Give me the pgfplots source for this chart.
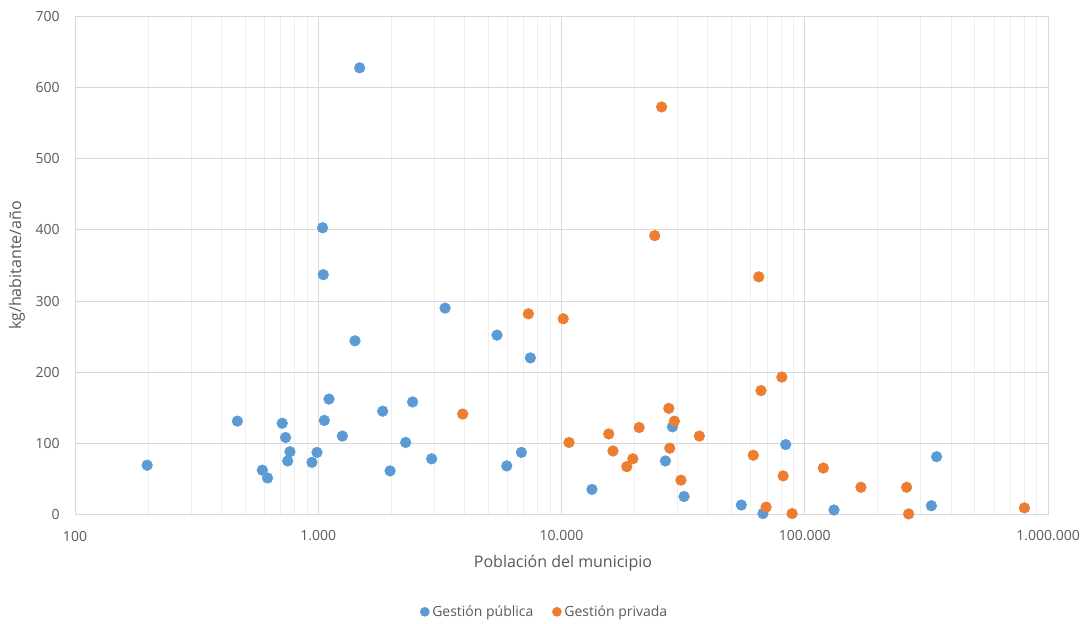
\documentclass[border=0pt]{standalone}
\usepackage{pgfplots}
\pgfplotsset{compat=1.18}
\usepackage{fontspec}
\setmainfont{Open Sans}

\definecolor{publica}{HTML}{5B9BD5}
\definecolor{privada}{HTML}{ED7D31}
\definecolor{textgray}{HTML}{595959}
\definecolor{majgrid}{HTML}{D9D9D9}
\definecolor{mingrid}{HTML}{EEEEEE}

\begin{document}
\begin{tikzpicture}
% 1 px of the reference = 0.75pt
\path[use as bounding box] (0,0) rectangle (816pt,468pt);
\begin{axis}[
    at={(56.25pt,82.3pt)}, anchor=south west,
    scale only axis,
    width=729.75pt, height=373.2pt,
    xmode=log, log basis x=10,
    xmin=100, xmax=1000000,
    ymin=0, ymax=700,
    xtick={100,1000,10000,100000,1000000},
    xticklabels={100,1.000,10.000,100.000,1.000.000},
    minor xtick={200,300,400,500,600,700,800,900,
        2000,3000,4000,5000,6000,7000,8000,9000,
        20000,30000,40000,50000,60000,70000,80000,90000,
        200000,300000,400000,500000,600000,700000,800000,900000},
    ytick={0,100,...,700},
    major tick length=0pt, minor tick length=0pt,
    xmajorgrids, xminorgrids, ymajorgrids,
    major grid style={draw=majgrid, line width=0.75pt},
    minor grid style={draw=mingrid, line width=0.75pt},
    axis line style={draw=majgrid, line width=0.75pt},
    axis on top=false,
    tick label style={font=\fontsize{10.5}{12}\selectfont, text=textgray},
    /pgf/number format/assume math mode=true,
    xticklabel style={anchor=center, yshift=-16.3pt},
    yticklabel style={anchor=east, inner sep=0pt, xshift=-11.25pt},
    xlabel={Población del municipio},
    ylabel={kg/habitante/año},
    label style={font=\fontsize{12}{14}\selectfont, text=textgray},
    xlabel style={at={(axis description cs:0.5015,-0.098)}, anchor=center},
    ylabel style={at={(axis description cs:-0.0596,0.5)}, anchor=center, rotate=0},
    legend style={at={(0.483,-0.196)}, anchor=center, draw=none, fill=none,
        font=\fontsize{10.5}{12}\selectfont, text=textgray,
        /tikz/every even column/.append style={column sep=12pt}},
    legend columns=2,
    legend image code/.code={\fill (0.1cm,0cm) circle (3.4pt);},
    clip=false,
]
\addplot[only marks, mark=*, mark size=4pt, color=publica] coordinates {
    (198,69) (465,131) (589,62) (619,51) (711,128) (734,108) (765,88) (749,75)
    (942,73) (988,87) (1059,132) (1107,162) (1256,110) (1416,244) (1841,145)
    (1974,61) (2287,101) (2442,158) (2925,78) (3321,290) (1480,628) (1042,403)
    (1049,337) (5430,252) (7450,220) (5957,68) (6842,87) (13340,35) (28580,123)
    (26740,75) (31900,25) (54850,13) (67300,1) (83500,98) (131900,6)
    (331500,12) (348300,81)
};
\addlegendentry{Gestión pública}
\addplot[only marks, mark=*, mark size=4pt, color=privada] coordinates {
    (7310,282) (10160,275) (3926,141) (10740,101) (15640,113) (16280,89)
    (20850,122) (19650,78) (18550,67) (27610,149) (29110,131) (27860,93)
    (36870,110) (30970,48) (80520,193) (66070,174) (61440,83) (81500,54)
    (69340,10) (88700,1) (25800,573) (24170,392) (64700,334) (119200,65)
    (170200,38) (262300,38) (267300,0.5) (800000,9)
};
\addlegendentry{Gestión privada}
\end{axis}
\end{tikzpicture}
\end{document}
